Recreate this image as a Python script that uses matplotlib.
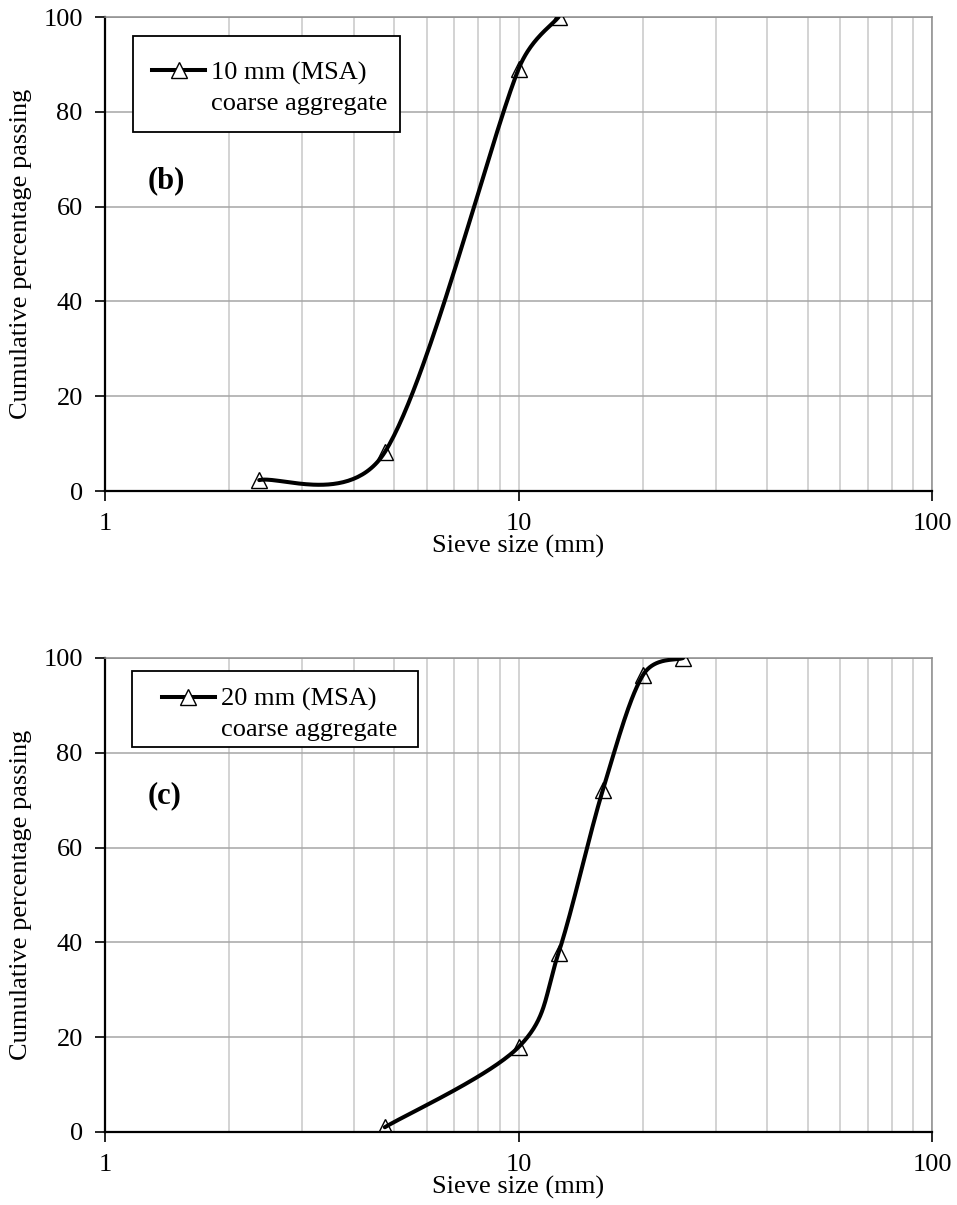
import numpy as np
import matplotlib
matplotlib.use("Agg")
import matplotlib.pyplot as plt
from matplotlib.lines import Line2D
from matplotlib.patches import Rectangle
from matplotlib.ticker import LogLocator, NullFormatter, FixedLocator

plt.rcParams['font.family'] = ['Liberation Serif', 'DejaVu Serif']

# sieve analysis data
sieve_10 = [2.36, 4.75, 10.0, 12.5]
passing_10 = [2.3, 8.2, 89.0, 100.0]

sieve_20 = [4.75, 10.0, 12.5, 16.0, 20.0, 25.0]
passing_20 = [1.0, 17.9, 37.8, 72.2, 96.4, 100.0]

labels_b = ['10 mm (MSA)', 'coarse aggregate']
labels_c = ['20 mm (MSA)', 'coarse aggregate']
y_ticks = [0, 20, 40, 60, 80, 100]
x_ticks = [1, 10, 100]

W, H = 957, 1205
AX_W, AX_H = 827, 474
FS = 19


def smooth_curve(xs, ys, n=60):
    # bezier smoothing like spreadsheet charts, done in pixel units
    sx = AX_W / 2.0
    sy = AX_H / 100.0
    P = np.column_stack([np.log10(xs) * sx, np.asarray(ys, float) * sy])
    P = np.vstack([P[0], P, P[-1]])
    t = np.linspace(0, 1, n)[:, None]
    out = []
    for i in range(1, len(P) - 2):
        p0, p1, p2, p3 = P[i - 1], P[i], P[i + 1], P[i + 2]
        d12 = np.hypot(*(p2 - p1))
        d02 = np.hypot(*(p2 - p0))
        d13 = np.hypot(*(p3 - p1))
        f1 = 1 / 6 if d02 == 0 else min(1 / 6, d12 / (2 * d02))
        f2 = 1 / 6 if d13 == 0 else min(1 / 6, d12 / (2 * d13))
        c1 = p1 + (p2 - p0) * f1
        c2 = p2 - (p3 - p1) * f2
        seg = (1 - t) ** 3 * p1 + 3 * (1 - t) ** 2 * t * c1 + 3 * (1 - t) * t ** 2 * c2 + t ** 3 * p2
        out.append(seg)
    S = np.vstack(out)
    return 10 ** (S[:, 0] / sx), S[:, 1] / sy


def draw_panel(ax, xs, ys, labels, tag, tag_y, leg_anchor, box):
    ax.set_xscale('log')
    ax.set_xlim(1, 100)
    ax.set_ylim(0, 100)
    cx, cy = smooth_curve(xs, ys)
    ax.plot(cx, cy, color='black', lw=2.9, solid_capstyle='round', zorder=3)
    ax.plot(xs, ys, linestyle='none', marker='^', ms=11, mfc='none', mec='black', mew=1.0, zorder=4)

    ax.xaxis.set_major_locator(FixedLocator(x_ticks))
    ax.set_xticklabels([str(v) for v in x_ticks])
    ax.xaxis.set_minor_locator(LogLocator(base=10, subs=np.arange(2, 10)))
    ax.xaxis.set_minor_formatter(NullFormatter())
    ax.set_yticks(y_ticks)
    ax.tick_params(axis='both', which='major', length=7, width=1.2, labelsize=FS, pad=9)
    ax.tick_params(axis='x', which='minor', length=0)

    ax.grid(True, axis='x', which='both', color='#c8c8c8', lw=1.1)
    ax.grid(True, axis='y', which='major', color='#a6a6a6', lw=1.1)
    ax.set_axisbelow(True)

    for s in ['top', 'right']:
        ax.spines[s].set_color('#8c8c8c')
        ax.spines[s].set_linewidth(1.1)
    for s in ['left', 'bottom']:
        ax.spines[s].set_color('black')
        ax.spines[s].set_linewidth(1.6)

    ax.set_xlabel('Sieve size (mm)', fontsize=FS, labelpad=0)
    ax.set_ylabel('Cumulative percentage passing', fontsize=FS, labelpad=8)

    # legend frame drawn separately so padding can differ per side
    ax.add_patch(Rectangle(box[:2], box[2], box[3], transform=ax.transAxes,
                           facecolor='white', edgecolor='black', lw=1.3, zorder=5))
    h1 = Line2D([], [], color='black', lw=2.9, marker='^', ms=11, mfc='white', mec='black', mew=1.0)
    h2 = Line2D([], [], linestyle='none')
    leg = ax.legend([h1, h2], labels, loc='upper left', bbox_to_anchor=leg_anchor,
                    borderaxespad=0, borderpad=0, frameon=False, fontsize=FS,
                    handlelength=2.0, handletextpad=0.22, labelspacing=0.23)
    leg.set_zorder(6)

    ax.text(1.27, tag_y, tag, fontsize=22, fontweight='bold', va='center', ha='left')


fig = plt.figure(figsize=(W / 100, H / 100), dpi=100)
ax_b = fig.add_axes([105 / W, 1 - 491 / H, AX_W / W, AX_H / H])
ax_c = fig.add_axes([105 / W, 1 - 1132 / H, AX_W / W, AX_H / H])

draw_panel(ax_b, sieve_10, passing_10, labels_b, '(b)', 65.5,
           (0.057, 0.907), (0.034, 0.757, 0.323, 0.203))
draw_panel(ax_c, sieve_20, passing_20, labels_c, '(c)', 71,
           (0.069, 0.938), (0.033, 0.812, 0.346, 0.160))

fig.savefig('out.png', dpi=100)
